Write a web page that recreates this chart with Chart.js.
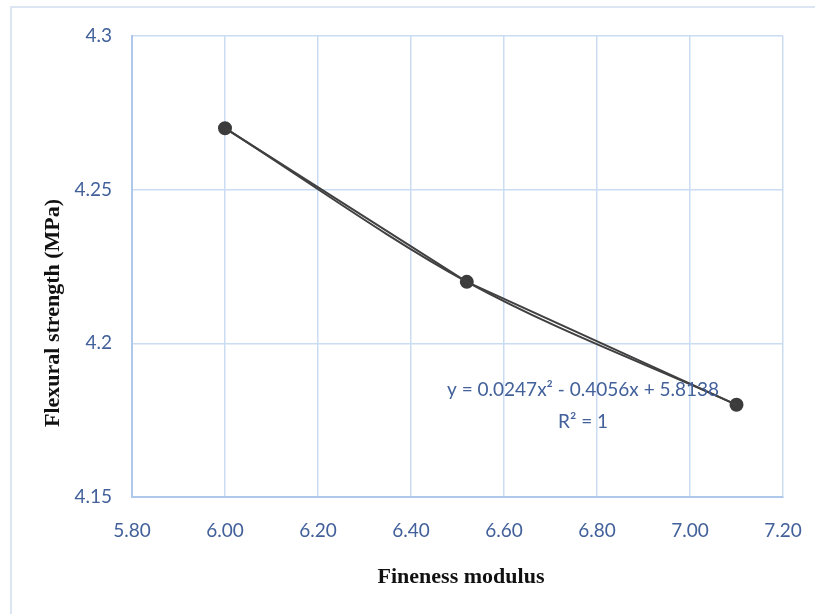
<!DOCTYPE html>
<html>
<head>
<meta charset="utf-8">
<script src="https://cdn.jsdelivr.net/npm/chart.js@4"></script>
<style>
    html, body { margin: 0; padding: 0; background: #fff; }
    #wrap { position: relative; width: 815px; height: 614px; overflow: hidden; }
    #frame {
        position: absolute; left: 10px; top: 6px; width: 900px; height: 700px;
        border-left: 2px solid #dce6f2; border-top: 2px solid #dce6f2;
    }
    canvas { position: absolute; left: 0; top: 0; }
</style>
</head>
<body>
<div id="wrap">
    <div id="frame"></div>
    <canvas id="chart" width="815" height="614"></canvas>
</div>
<script>
// Data
const finenessModulus = [6.00, 6.52, 7.10];
const flexuralStrength = [4.27, 4.22, 4.18];
const xTicks = [5.8, 6.0, 6.2, 6.4, 6.6, 6.8, 7.0, 7.2];
const yTicks = [4.15, 4.2, 4.25, 4.3];
const xTitle = 'Fineness modulus';
const yTitle = 'Flexural strength (MPa)';
const equationText = 'y = 0.0247x² - 0.4056x + 5.8138';
const rSquaredText = 'R² = 1';

const tickColor = '#42609a';
const gridColor = '#c9dcf2';
const lineColor = '#404040';
const tickFont = 'Lato, "DejaVu Sans Condensed", sans-serif';
const titleFont = 'bold 22px "Liberation Serif", "Times New Roman", serif';

const points = finenessModulus.map((x, i) => ({ x: x, y: flexuralStrength[i] }));

// Axis titles and the trendline label
const labelsPlugin = {
    id: 'chartLabels',
    afterDraw(chart) {
        const { ctx, scales } = chart;
        ctx.save();
        ctx.textAlign = 'center';
        ctx.textBaseline = 'middle';

        ctx.fillStyle = '#111';
        ctx.font = titleFont;
        ctx.fillText(xTitle, 461, 577);
        ctx.translate(53, 313);
        ctx.rotate(-Math.PI / 2);
        ctx.fillText(yTitle, 0, 0);
        ctx.setTransform(1, 0, 0, 1, 0, 0);

        ctx.fillStyle = tickColor;
        ctx.font = '19px ' + tickFont;
        ctx.fillText(equationText, scales.x.getPixelForValue(6.77), scales.y.getPixelForValue(4.1848));
        ctx.fillText(rSquaredText, scales.x.getPixelForValue(6.77), scales.y.getPixelForValue(4.1745));
        ctx.restore();
    }
};

const ctx = document.getElementById('chart').getContext('2d');
new Chart(ctx, {
    type: 'scatter',
    data: {
        datasets: [
            {
                // polynomial trend, smoothed through the points
                data: points,
                showLine: true,
                tension: 0.4,
                cubicInterpolationMode: 'monotone',
                borderColor: lineColor,
                borderWidth: 2,
                pointRadius: 0,
                fill: false
            },
            {
                data: points,
                showLine: true,
                tension: 0,
                borderColor: lineColor,
                borderWidth: 2,
                pointRadius: 6,
                pointBackgroundColor: '#3c3c3c',
                pointBorderColor: '#3c3c3c',
                fill: false
            }
        ]
    },
    options: {
        responsive: false,
        animation: false,
        layout: { padding: { left: 0, right: 32, top: 36, bottom: 1 } },
        plugins: {
            legend: { display: false },
            tooltip: { enabled: false }
        },
        scales: {
            x: {
                type: 'linear',
                min: xTicks[0],
                max: xTicks[xTicks.length - 1],
                afterBuildTicks: (scale) => { scale.ticks = xTicks.map(v => ({ value: v })); },
                afterFit: (scale) => {
                    scale.height = 116;
                    scale.paddingLeft = 0;
                    scale.paddingRight = 0;
                },
                grid: { color: gridColor, lineWidth: 1.5, drawTicks: false },
                border: { color: '#adc8ea', width: 2 },
                ticks: {
                    color: tickColor,
                    padding: 22,
                    font: { family: tickFont, size: 19 },
                    callback: (v) => Number(v).toFixed(2)
                }
            },
            y: {
                min: yTicks[0],
                max: yTicks[yTicks.length - 1],
                afterBuildTicks: (scale) => { scale.ticks = yTicks.map(v => ({ value: v })); },
                afterFit: (scale) => {
                    scale.width = 132;
                    scale.paddingTop = 0;
                    scale.paddingBottom = 0;
                },
                grid: { color: gridColor, lineWidth: 1.5, drawTicks: false },
                border: { color: '#adc8ea', width: 2 },
                ticks: {
                    color: tickColor,
                    padding: 20,
                    font: { family: tickFont, size: 19 },
                    callback: (v) => String(v)
                }
            }
        }
    },
    plugins: [labelsPlugin]
});
</script>
</body>
</html>
